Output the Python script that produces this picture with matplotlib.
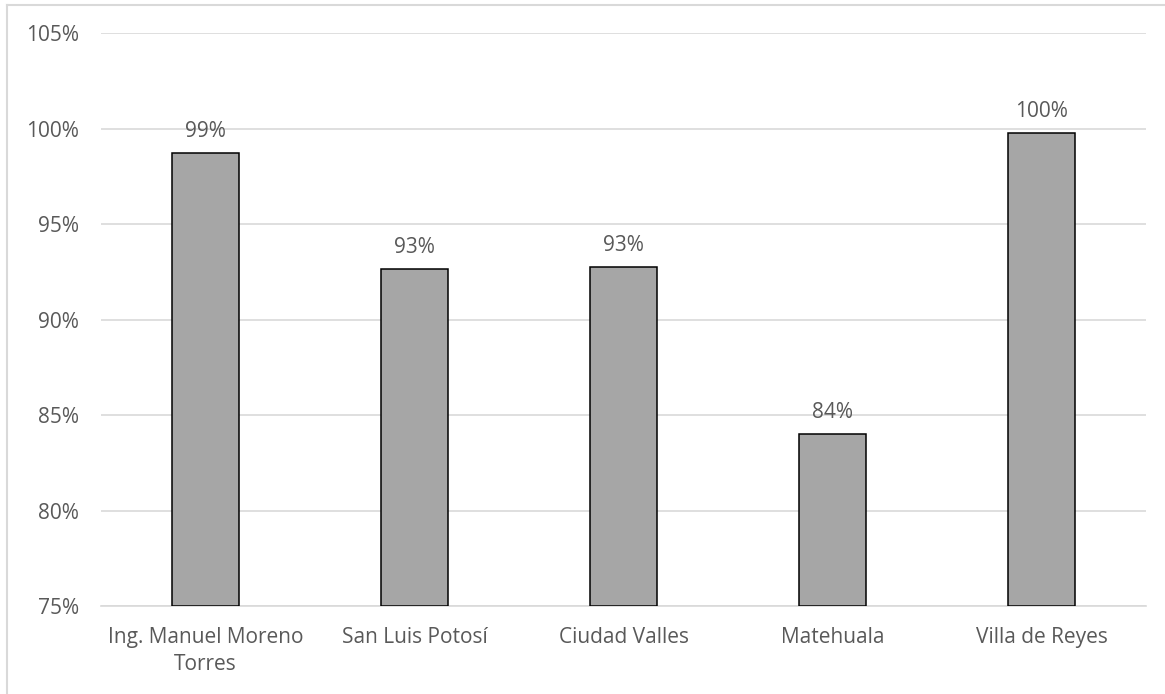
import numpy as np
import matplotlib.pyplot as plt
from matplotlib.ticker import FuncFormatter

## Data
categories = ["Ing. Manuel Moreno\nTorres", "San Luis Potosí", "Ciudad Valles", "Matehuala", "Villa de Reyes"]
values = [0.987, 0.9265, 0.9275, 0.840, 0.9975]
labels = ["99%", "93%", "93%", "84%", "100%"]
yticks = [0.75, 0.80, 0.85, 0.90, 0.95, 1.00, 1.05]

plt.rcParams['font.family'] = ['Open Sans', 'DejaVu Sans']
text_color = '#595959'
grid_color = '#d9d9d9'

fig = plt.figure(figsize=(11.65, 6.94), dpi=100)
ax = fig.add_axes([0.0867, 0.1268, 0.897, 0.8256])

# outer chart frame (left and top edges are visible)
fig.add_artist(plt.Line2D([0.006, 0.006], [0, 0.993], color=grid_color, lw=1.5, transform=fig.transFigure))
fig.add_artist(plt.Line2D([0.006, 1.0], [0.993, 0.993], color=grid_color, lw=1.5, transform=fig.transFigure))

x = np.arange(len(categories))
bars = ax.bar(x, [v - 0.75 for v in values], bottom=0.75, width=0.316,
              color='#a6a6a6', edgecolor='black', linewidth=1.1, zorder=3)

for xi, v, lab in zip(x, values, labels):
    ax.annotate(lab, (xi, v), xytext=(0, 8), textcoords='offset points',
                ha='center', va='bottom', fontsize=15, color=text_color)

ax.set_xlim(-0.5, len(categories) - 0.5)
ax.set_ylim(0.75, 1.05)
ax.set_yticks(yticks)
ax.yaxis.set_major_formatter(FuncFormatter(lambda v, p: f"{v*100:.0f}%"))
ax.set_xticks(x)
ax.set_xticklabels(categories, linespacing=1.4)
ax.tick_params(axis='both', length=0, labelsize=15, colors=text_color)
ax.tick_params(axis='y', pad=16)
ax.tick_params(axis='x', pad=15)
ax.grid(axis='y', color=grid_color, lw=1.2, zorder=0)
for s in ['top', 'right', 'left']:
    ax.spines[s].set_visible(False)
ax.spines['bottom'].set_color(grid_color)
ax.spines['bottom'].set_linewidth(1.2)

fig.savefig("out.png", dpi=100)
